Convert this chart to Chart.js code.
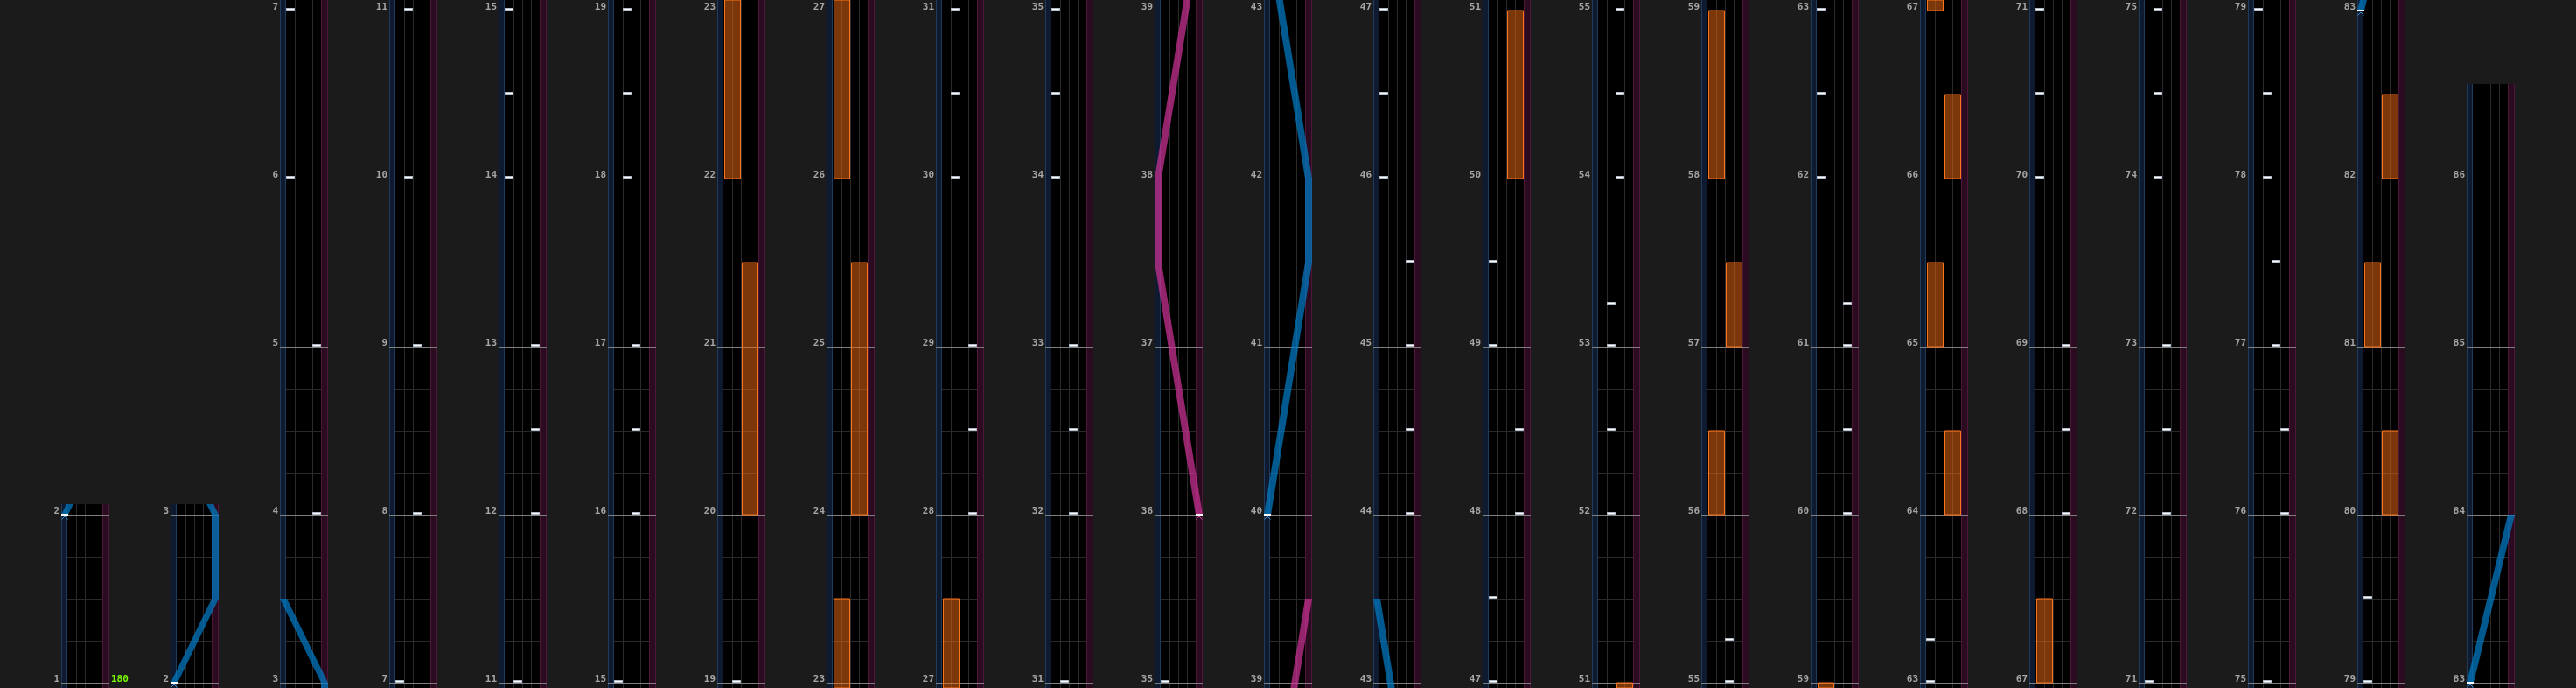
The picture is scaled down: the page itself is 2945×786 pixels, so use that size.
<!DOCTYPE html>
<html><head><meta charset="utf-8">
<script src="https://cdn.jsdelivr.net/npm/chart.js@4.4.1/dist/chart.umd.min.js"></script>
<style>
html,body{margin:0;padding:0;background:#1b1b1b;overflow:hidden}
#wrap{width:2945px;height:786px;position:relative}
canvas{display:block}
</style></head><body>
<div id="wrap"><canvas id="c" width="2945" height="786"></canvas></div>
<script>
// ---------------- data ----------------
const COLUMN_STARTS = [1, 2, 3, 7, 11, 15, 19, 23, 27, 31, 35, 39, 43, 47, 51, 55, 59, 63, 67, 71, 75, 79, 83];
const COLUMN_SPANS  = [1, 1, 4, 4, 4, 4, 4, 4, 4, 4, 4, 4, 4, 4, 4, 4, 4, 4, 4, 4, 4, 4, 3.5];
// BT chips: [measure, lane(0=A..3=D)]
const BT_CHIPS = [
  [4,3],[5,3],[6,0],[7,0],
  [8,2],[9,2],[10,1],[11,1],
  [12,3],[12.5,3],[13,3],[14,0],[14.5,0],[15,0],
  [16,2],[16.5,2],[17,2],[18,1],[18.5,1],[19,1],
  [28,3],[28.5,3],[29,3],[30,1],[30.5,1],[31,1],
  [32,2],[32.5,2],[33,2],[34,0],[34.5,0],[35,0],
  [44,3],[44.5,3],[45,3],[45.5,3],[46,0],[46.5,0],[47,0],
  [47.5,0],[48,3],[48.5,3],[49,0],[49.5,0],
  [52,1],[52.5,1],[53,1],[53.25,1],[54,2],[54.5,2],[55,2],
  [55.25,2],
  [60,3],[60.5,3],[61,3],[61.25,3],[62,0],[62.5,0],[63,0],
  [63.25,0],
  [68,3],[68.5,3],[69,3],[70,0],[70.5,0],[71,0],
  [72,2],[72.5,2],[73,2],[74,1],[74.5,1],[75,1],
  [76,3],[76.5,3],[77,2],[77.5,2],[78,1],[78.5,1],[79,0],
  [79.5,0]
];
// FX holds: [start measure, end measure]
const FX_L_HOLDS = [[22,23.5],[26,27.5],[56,56.5],[58,59],[65,65.5],[67,67.5],[81,81.5]];
const FX_R_HOLDS = [[20,21.5],[24,25.5],[50,51],[57,57.5],[64,64.5],[66,66.5],[80,80.5],[82,82.5]];
// Lasers: list of paths, each [measure, position 0..1]
const LASER_L = [
  [[2,0],[2.5,1],[3,1],[3.5,0]],
  [[40,0],[41.5,1],[42,1],[43.5,0]],
  [[83,0],[84,1]]
];
const LASER_R = [
  [[36,1],[37.5,0],[38,0],[39.5,1]]
];
const BPM_CHANGES = [[1,180]];

// ---------------- layout / style ----------------
const X_MIN = -7, X_MAX = 287.5, Y_MIN = -0.03125, Y_MAX = 4.0625;
const COL_PITCH = 12.5, COL_W = 5.5, LANE0 = 0.7, WALL_R = 4.7;
const TOP_MARGIN = 0.0625, BOTTOM_MARGIN = 0.03125;
const LASER_C0 = 0.4, LASER_SPAN = 4.7, LASER_HALF = 0.4;
const C = {
  panel:'#000000', wallL:'#0d1a2f', wallLEdge:'#1f3b59', wallR:'#2a0b1f', wallREdge:'#4e1639',
  grid:'#2a2a2a', measure:'#7f7f7f', label:'#a6a6a6', bpm:'#7cfc00',
  fxFill:'rgba(235,105,20,0.52)', fxBorder:'#ff7418',
  laserL:'rgba(0,125,200,0.72)', laserR:'rgba(205,50,150,0.72)',
  markL:'#3d8fd0', markR:'#d04aa0'
};

function colX(k){ return k*COL_PITCH; }
function visRange(k){ const s=COLUMN_STARTS[k]; return [s-BOTTOM_MARGIN, s+COLUMN_SPANS[k]+TOP_MARGIN]; }
function laserX(k,p){ return colX(k)+LASER_C0+LASER_SPAN*p; }
function clipPath(path, lo, hi){
  const out=[];
  for(let i=0;i<path.length-1;i++){
    const [t0,p0]=path[i],[t1,p1]=path[i+1];
    if(t1<=lo||t0>=hi) continue;
    const a=Math.max(t0,lo), b=Math.min(t1,hi);
    const pa=p0+(p1-p0)*(a-t0)/(t1-t0), pb=p0+(p1-p0)*(b-t0)/(t1-t0);
    if(!out.length||out[out.length-1][0]!==a) out.push([a,pa]);
    out.push([b,pb]);
  }
  return out;
}
function makeChip(){
  const c=document.createElement('canvas'); c.width=10; c.height=6;
  const g=c.getContext('2d');
  g.fillStyle='#aeb8c6'; g.fillRect(0,0,10,3);
  g.fillStyle='#ffffff'; g.fillRect(1,1,8,1);
  return c;
}
function makeMarker(col){
  const c=document.createElement('canvas'); c.width=8; c.height=12;
  const g=c.getContext('2d');
  g.fillStyle='#ffffff'; g.fillRect(0,5,8,2);
  g.strokeStyle=col; g.lineWidth=1;
  g.beginPath(); g.moveTo(0.5,11.5); g.lineTo(4,8); g.lineTo(7.5,11.5); g.stroke();
  return c;
}

// ---------------- datasets ----------------
const datasets=[];
const chipPts=[], markL=[], markR=[];
COLUMN_STARTS.forEach((s,k)=>{
  const [lo,hi]=visRange(k);
  [[FX_L_HOLDS,0],[FX_R_HOLDS,2]].forEach(([list,lane])=>{
    list.forEach(([a,b])=>{
      const t0=Math.max(a,lo), t1=Math.min(b,hi);
      if(t1<=t0) return;
      const x0=colX(k)+LANE0+lane+0.15, x1=colX(k)+LANE0+lane+1.95;
      const y0=t0-s, y1=t1-s;
      datasets.push({type:'line', data:[{x:x0,y:y0},{x:x1,y:y0},{x:x1,y:y1},{x:x0,y:y1},{x:x0,y:y0}],
        fill:'shape', backgroundColor:C.fxFill, borderColor:C.fxBorder, borderWidth:1, pointRadius:0, order:4});
    });
  });
  [[LASER_L,C.laserL,markL],[LASER_R,C.laserR,markR]].forEach(([paths,col,marks])=>{
    paths.forEach(path=>{
      const seg=clipPath(path,lo,hi);
      if(seg.length>=2){
        const left=seg.map(([t,p])=>({x:laserX(k,p)-LASER_HALF, y:t-s}));
        const right=seg.map(([t,p])=>({x:laserX(k,p)+LASER_HALF, y:t-s})).reverse();
        datasets.push({type:'line', data:left.concat(right), fill:'shape', backgroundColor:col,
          borderColor:'rgba(0,0,0,0)', borderWidth:0, pointRadius:0, order:3});
      }
      const [ts,ps]=path[0];
      if(ts>=lo&&ts<=hi) marks.push({x:laserX(k,ps), y:ts-s});
    });
  });
  BT_CHIPS.forEach(([t,lane])=>{
    if(t>=lo&&t<=hi) chipPts.push({x:colX(k)+LANE0+lane+0.5, y:t-s});
  });
});
datasets.push({type:'scatter', data:chipPts, pointStyle:makeChip(), pointRadius:5, order:2});
datasets.push({type:'scatter', data:markL, pointStyle:makeMarker(C.markL), pointRadius:5, order:1});
datasets.push({type:'scatter', data:markR, pointStyle:makeMarker(C.markR), pointRadius:5, order:1});

// ---------------- plugins ----------------
const panelPlugin={
  id:'panels',
  beforeDatasetsDraw(chart){
    const ctx=chart.ctx, xs=chart.scales.x, ys=chart.scales.y;
    const px=v=>Math.round(xs.getPixelForValue(v));
    const py=v=>Math.round(ys.getPixelForValue(v));
    ctx.save();
    COLUMN_STARTS.forEach((s,k)=>{
      const [lo,hi]=visRange(k);
      const yTop=py(Math.min(hi-s,Y_MAX)), yBot=py(Math.max(lo-s,Y_MIN));
      const h=yBot-yTop;
      const xL=px(colX(k)), xR=px(colX(k)+COL_W), xA=px(colX(k)+LANE0), xB=px(colX(k)+WALL_R);
      ctx.fillStyle=C.panel; ctx.fillRect(xL,yTop,xR-xL,h);
      ctx.fillStyle=C.wallL; ctx.fillRect(xL,yTop,xA-xL,h);
      ctx.fillStyle=C.wallLEdge; ctx.fillRect(xL,yTop,1,h); ctx.fillRect(xA-1,yTop,1,h);
      ctx.fillStyle=C.wallR; ctx.fillRect(xB,yTop,xR-xB,h);
      ctx.fillStyle=C.wallREdge; ctx.fillRect(xB,yTop,1,h); ctx.fillRect(xR-1,yTop,1,h);
      ctx.fillStyle=C.grid;
      for(let i=1;i<=3;i++){ ctx.fillRect(px(colX(k)+LANE0+i),yTop,1,h); }
      for(let q=Math.ceil((lo-s)*4); q<=Math.floor((hi-s)*4); q++){
        if(q%4===0) continue;
        ctx.fillRect(xA,py(q/4),xB-xA,1);
      }
      ctx.fillStyle=C.measure;
      for(let m=Math.ceil(lo); m<=Math.floor(hi); m++){
        ctx.fillRect(xL,py(m-s),xR-xL,1);
      }
    });
    ctx.restore();
  },
  afterDatasetsDraw(chart){
    const ctx=chart.ctx, xs=chart.scales.x, ys=chart.scales.y;
    ctx.save();
    ctx.font='bold 11px "DejaVu Sans Mono"';
    ctx.textBaseline='alphabetic';
    COLUMN_STARTS.forEach((s,k)=>{
      ctx.fillStyle=C.label; ctx.textAlign='right';
      const xl=Math.round(xs.getPixelForValue(colX(k)))-2;
      for(let m=s; m<=Math.floor(s+COLUMN_SPANS[k]); m++){
        ctx.fillText(String(m), xl, Math.round(ys.getPixelForValue(m-s))-1);
      }
    });
    BPM_CHANGES.forEach(([m,bpm])=>{
      const k=COLUMN_STARTS.findIndex((s,i)=>m>=s&&m<s+COLUMN_SPANS[i]);
      if(k<0) return;
      ctx.fillStyle=C.bpm; ctx.textAlign='left';
      ctx.fillText(String(bpm), Math.round(xs.getPixelForValue(colX(k)+COL_W))+2, Math.round(ys.getPixelForValue(m-COLUMN_STARTS[k]))-1);
    });
    ctx.restore();
  }
};

new Chart(document.getElementById('c'),{
  type:'line',
  data:{datasets},
  options:{
    responsive:false, animation:false, devicePixelRatio:1, events:[],
    layout:{padding:0, autoPadding:false},
    plugins:{legend:{display:false}, tooltip:{enabled:false}},
    scales:{
      x:{type:'linear', min:X_MIN, max:X_MAX, display:false},
      y:{type:'linear', min:Y_MIN, max:Y_MAX, display:false}
    },
    elements:{line:{tension:0}, point:{radius:0}}
  },
  plugins:[panelPlugin]
});
</script>
</body></html>
